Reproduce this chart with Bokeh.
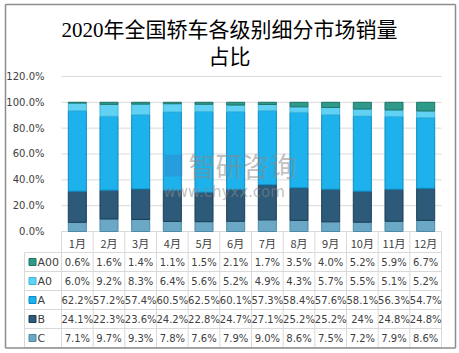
from bokeh.plotting import figure
from bokeh.models import Range1d, FixedTicker, NumeralTickFormatter, ColumnDataSource
from bokeh.core.properties import value
from bokeh.embed import file_html
from bokeh.resources import INLINE

# ---------------- data ----------------
title_lines = ["2020年全国轿车各级别细分市场销量", "占比"]
months = ["1月", "2月", "3月", "4月", "5月", "6月", "7月", "8月", "9月", "10月", "11月", "12月"]
C = [7.1, 9.7, 9.3, 7.8, 7.6, 7.9, 9.0, 8.6, 7.5, 7.2, 7.9, 8.6]
B = [24.1, 22.3, 23.6, 24.2, 22.8, 24.7, 27.1, 25.2, 25.2, 24, 24.8, 24.8]
A = [62.2, 57.2, 57.4, 60.5, 62.5, 60.1, 57.3, 58.4, 57.6, 58.1, 56.3, 54.7]
A0 = [6.0, 9.2, 8.3, 6.4, 5.6, 5.2, 4.9, 4.3, 5.7, 5.5, 5.1, 5.2]
A00 = [0.6, 1.6, 1.4, 1.1, 1.5, 2.1, 1.7, 3.5, 4.0, 5.2, 5.9, 6.7]
series_names = ["C", "B", "A", "A0", "A00"]          # bottom -> top
series_vals = [C, B, A, A0, A00]
y_ticks = [0.0, 0.2, 0.4, 0.6, 0.8, 1.0, 1.2]
watermark = ["智研咨询", "www.chyxx.com"]

# ---------------- styles ----------------
fill_cols = ["#6aa8c6", "#2d5a78", "#1db2ec", "#62d2f4", "#2e9a8a"]
edge_cols = ["#4d8aa8", "#1b3f57", "#0e8cc4", "#3fb6dc", "#1f7568"]
TXT = "#404040"
GRID = "#d9d9d9"

W, H = 459, 353
X0, CW = 61.0, 380.0 / 12       # plot-area left px, category width px
Y0, PPU = 231.0, 129.2          # zero line px, px per 100%

def dx(px):
    return (px - X0) / CW

def dy(py):
    return (Y0 - py) / PPU

p = figure(width=W, height=H, output_backend="svg", toolbar_location=None,
           x_range=Range1d(dx(0), dx(W)), y_range=Range1d(dy(H), dy(0)),
           x_axis_location=None, y_axis_location="left")
p.min_border = 0
p.outline_line_color = None
p.background_fill_color = "white"
p.border_fill_color = "white"
p.xgrid.visible = False
p.ygrid.visible = False

ax = p.yaxis[0]
ax.ticker = FixedTicker(ticks=y_ticks)
ax.formatter = NumeralTickFormatter(format="0.0%")
ax.axis_line_color = None
ax.major_tick_line_color = None
ax.minor_tick_line_color = None
ax.major_label_standoff = -50
ax.major_label_text_font = "DejaVu Sans"
ax.major_label_text_font_size = "10px"
ax.major_label_text_color = TXT

n = len(months)
xc = [i + 0.5 for i in range(n)]

# gridlines
p.segment(x0=[0] * len(y_ticks), x1=[n] * len(y_ticks), y0=y_ticks, y1=y_ticks,
          line_color=GRID, line_width=1)

# stacked bars
src = ColumnDataSource(dict(x=xc, **{nm: [v / 100 for v in vals]
                                     for nm, vals in zip(series_names, series_vals)}))
p.vbar_stack(series_names, x="x", width=0.57, source=src,
             fill_color=fill_cols, line_color=edge_cols, line_width=1)

# watermark (drawn over the bars)
p.rect(x=[dx(173)], y=[dy(165)], width=18 / CW, height=22 / PPU,
       fill_color="#3a78c0", fill_alpha=0.35, line_color=None)
p.text(x=[dx(188)], y=[dy(165)], text=[watermark[0]], text_font=value("Noto Sans CJK SC"),
       text_font_size="27px", text_color="#8a8a8a", text_alpha=0.55,
       text_baseline="middle", text_align="left")
p.text(x=[dx(163)], y=[dy(191)], text=[watermark[1]], text_font=value("DejaVu Sans"),
       text_font_size="15px", text_color="#8a8a8a", text_alpha=0.55,
       text_baseline="middle", text_align="left")

# ---------------- data table ----------------
row_tops = [252, 271, 290, 309, 328]
row_h = 19
table_left = 24
hy = [252, 271, 290, 309, 328, 347]
p.segment(x0=[dx(table_left)] * len(hy), x1=[n] * len(hy),
          y0=[dy(v) for v in hy], y1=[dy(v) for v in hy], line_color=GRID, line_width=1)
p.segment(x0=list(range(n + 1)), x1=list(range(n + 1)),
          y0=[dy(Y0)] * (n + 1), y1=[dy(347)] * (n + 1), line_color=GRID, line_width=1)
p.segment(x0=[dx(table_left)], x1=[dx(table_left)], y0=[dy(252)], y1=[dy(347)],
          line_color=GRID, line_width=1)
p.text(x=xc, y=[dy(242)] * n, text=months, text_font=value("Noto Sans CJK SC"),
       text_font_size="11px", text_color=TXT, text_align="center", text_baseline="middle")

def fmt(v):
    return f"{v}%" if isinstance(v, int) else f"{v:.1f}%"

rows_top_down = list(zip(series_names, series_vals, fill_cols, edge_cols))[::-1]
for k, (nm, vals, col, ecol) in enumerate(rows_top_down):
    cy = dy(row_tops[k] + row_h / 2)
    p.text(x=xc, y=[cy] * n, text=[fmt(v) for v in vals], text_font=value("DejaVu Sans"),
           text_font_size="10px", text_color=TXT, text_align="center", text_baseline="middle")
    p.rect(x=[dx(32)], y=[cy], width=7 / CW, height=7 / PPU, fill_color=col,
           line_color=ecol, line_width=1)
    p.text(x=[dx(37)], y=[cy], text=[nm], text_font=value("DejaVu Sans"),
           text_font_size="11px", text_color=TXT, text_align="left", text_baseline="middle")

# title
p.text(x=[dx(229)] * 2, y=[dy(29), dy(56)], text=title_lines,
       text_font=value("Liberation Serif, Noto Sans CJK SC"), text_font_size="21px",
       text_color="#000000", text_align="center", text_baseline="middle")

# outer border
p.segment(x0=[dx(5), dx(5), dx(455), dx(5)], x1=[dx(455), dx(5), dx(455), dx(455)],
          y0=[dy(4), dy(4), dy(4), dy(347.5)], y1=[dy(4), dy(347.5), dy(347.5), dy(347.5)],
          line_color="#8c8c8c", line_width=1.5)

open("out.html", "w").write(file_html(p, INLINE))
